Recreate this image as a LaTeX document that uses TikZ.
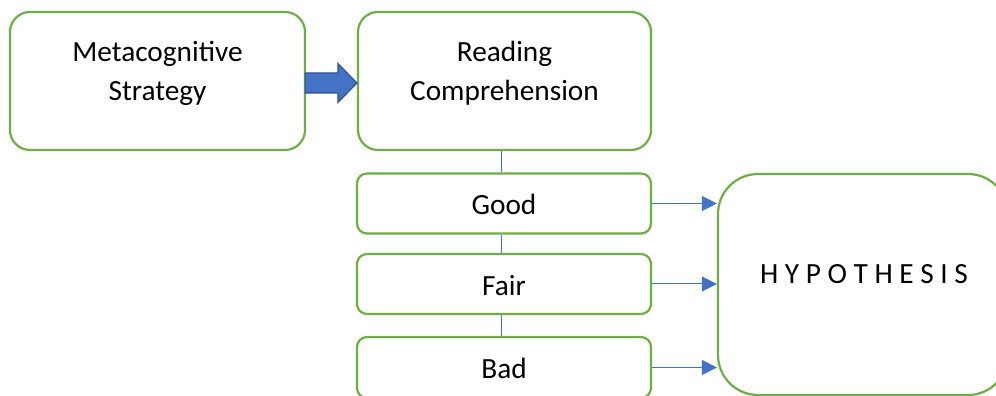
\documentclass[tikz,border=0pt]{standalone}
\usepackage{fontspec}
\setmainfont{Carlito}
\usepackage{tikz}
\usetikzlibrary{arrows.meta,positioning,calc}
\definecolor{BoxGreen}{RGB}{112,173,71}
\definecolor{LinkBlue}{RGB}{68,114,196}
\definecolor{ArrowEdge}{RGB}{47,82,143}
\tikzset{
  box/.style={draw=BoxGreen,line width=2.2pt,fill=white,inner sep=0pt},
  bigbox/.style={box,rounded corners=20pt,minimum width=295pt,minimum height=138pt},
  level/.style={box,rounded corners=10pt,minimum width=294pt,minimum height=60pt,
                text height=23pt,text depth=0pt,font=\fontsize{29.3}{39}\selectfont},
  lbl/.style={inner sep=0pt,align=center,font=\fontsize{29.3}{39}\selectfont},
  link/.style={draw=LinkBlue,line width=1pt},
  feed/.style={-{Triangle[length=15pt,width=15pt]},draw=LinkBlue,line width=1pt},
  blockarrow/.style={fill=LinkBlue,draw=ArrowEdge,line width=1.2pt,line join=miter},
}
\begin{document}
\begin{tikzpicture}[x=1pt,y=1pt]
  \useasboundingbox (0,0) rectangle (996,396);
  % top row
  \node[bigbox] (meta) at (157.5,315) {};
  \node[bigbox,minimum width=293pt] (read) at (504.5,315) {};
  \node[lbl,below=30pt of meta.north] (metatxt) {Metacognitive\\Strategy};
  \node[lbl,below=30pt of read.north] (readtxt) {Reading\\Comprehension};
  % levels
  \node[level] (good) at (504,192.5) {Good};
  \node[level] (fair) at (504,112) {Fair};
  \node[level,minimum height=61pt] (bad) at (504,28.5) {Bad};
  \node[box,rounded corners=40pt,minimum width=290pt,minimum height=221pt] (hyp) at (863,111.5) {};
  \node[lbl,anchor=base] (hyptxt) at (864,112) {H Y P O T H E S I S};
  % block arrow
  \path ([yshift=-2pt]meta.east) coordinate (s) ([yshift=-2pt]read.west) coordinate (t);
  \draw[blockarrow] ($(s)+(-1,10)$) -- ($(t)+(-19,10)$) -- ($(t)+(-19,19.5)$) -- (t)
    -- ($(t)+(-19,-19.5)$) -- ($(t)+(-19,-10)$) -- ($(s)+(-1,-10)$) -- cycle;
  % links
  \draw[link] ([xshift=-2.5pt]good.north) -- ([xshift=-2.5pt]good.north |- read.south);
  \draw[link] ([xshift=-2.5pt]good.south) -- ([xshift=-2.5pt]fair.north);
  \draw[link] ([xshift=-2.5pt]fair.south) -- ([xshift=-2.5pt]bad.north);
  \draw[feed] (good.east) -- (good.east -| hyp.west);
  \draw[feed] (fair.east) -- (fair.east -| hyp.west);
  \draw[feed] (bad.east) -- (bad.east -| hyp.west);
\end{tikzpicture}
\end{document}
